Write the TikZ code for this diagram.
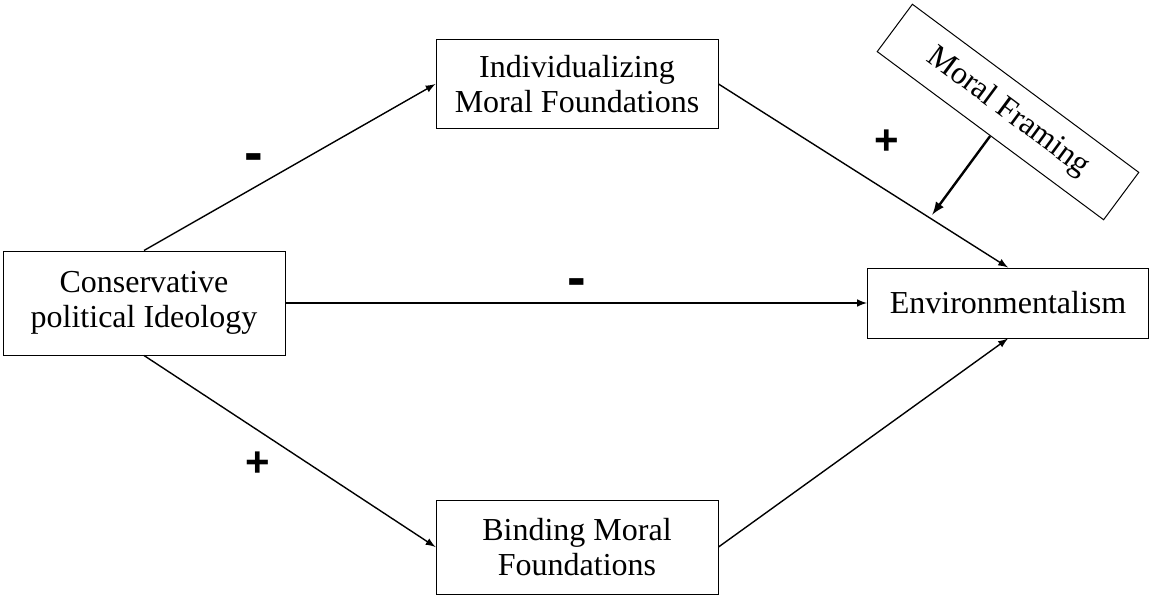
\documentclass[tikz,border=0pt]{standalone}
\usepackage{fontspec}
\setmainfont{Liberation Serif}
\setsansfont{Liberation Sans}
\usetikzlibrary{arrows}
\tikzset{>=latex}
\tikzset{box/.style={draw, line width=0.5pt, align=center, inner sep=0pt,
    font=\fontsize{16}{17.5}\selectfont}}
\tikzset{sign/.style={font=\sffamily\bfseries\fontsize{21}{24}\selectfont}}
\tikzset{minus/.style={font=\sffamily\bfseries\fontsize{28}{30}\selectfont}}

\begin{document}
\begin{tikzpicture}[x=0.5pt, y=0.5pt]
          \useasboundingbox (0,0) rectangle (1152,596);
          % boxes
          \node[box, minimum width=141pt, minimum height=52pt] (cons) at (144,293) {Conservative\\political Ideology};
          \node[box, minimum width=141pt, minimum height=44pt] (indiv) at (577,512) {Individualizing\\Moral Foundations};
          \node[box, minimum width=141pt, minimum height=47pt] (bind) at (577,49) {Binding Moral\\Foundations};
          \node[box, minimum width=140.5pt, minimum height=35pt] (env) at (1008,293) {Environmentalism};
          \node[box, rotate=-36.6, minimum width=141pt, minimum height=29.5pt] (frame) at (1008,484) {Moral Framing};
          % paths
          \draw[->, line width=0.7pt] (cons.north) -- (indiv.west);
          \draw[->, line width=0.7pt] (cons.south) -- (bind.west);
          \draw[->, line width=0.7pt] (cons.east) -- (env.west);
          \draw[->, line width=0.7pt] (indiv.east) -- coordinate[pos=0.73] (hit) (env.north);
          \draw[->, line width=0.7pt] (bind.east) -- (env.south);
          \draw[->, line width=1.2pt, shorten >=2pt] (frame.south) -- (hit);
          % signs
          \node[minus] (s1) at (254,433) {-};
          \node[sign] (s2) at (258,132) {+};
          \node[minus] (s3) at (577,308) {-};
          \node[sign] (s4) at (887,454) {+};
        \end{tikzpicture}
\end{document}
